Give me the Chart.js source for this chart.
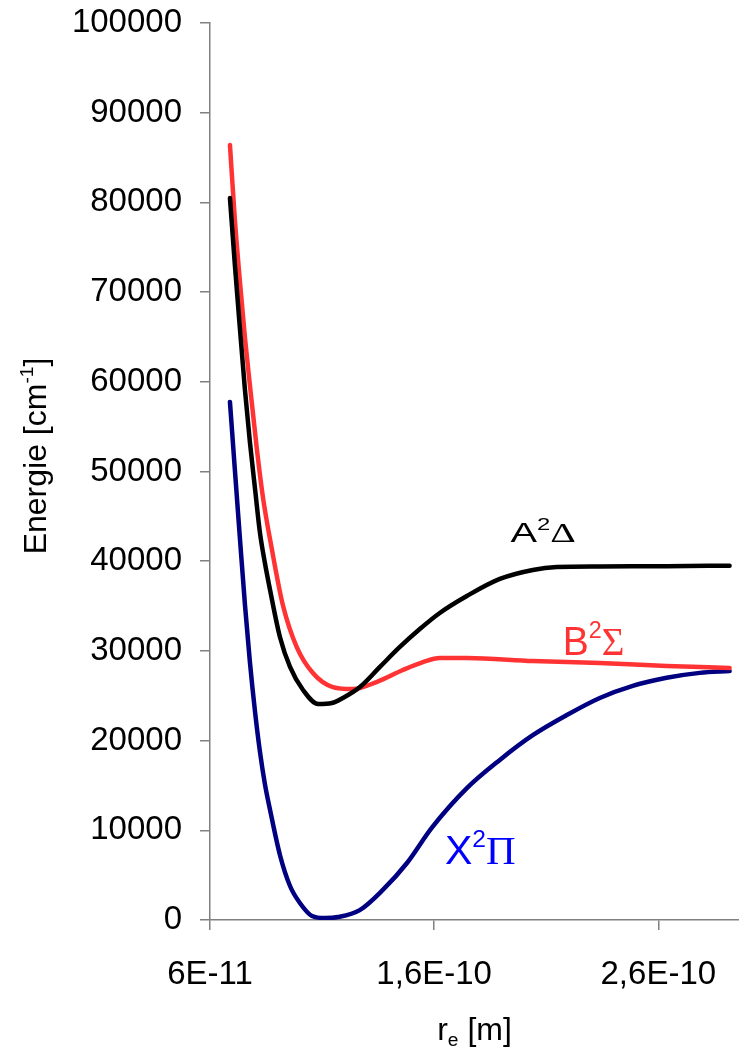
<!DOCTYPE html>
<html>
<head>
<meta charset="utf-8">
<script src="https://cdn.jsdelivr.net/npm/chart.js@4.4.1/dist/chart.umd.min.js"></script>
<style>
  html, body { margin: 0; padding: 0; background: #fff; }
  canvas { display: block; }
</style>
</head>
<body>
<canvas id="chart" width="739" height="1050"></canvas>
<script>
/* Potential curves: r in units of 1E-10 m, energy in cm-1 */
var rA = [0.689, 0.711, 0.734, 0.756, 0.778, 0.801, 0.823, 0.845, 0.868, 0.912, 0.957, 1.015, 1.082, 1.144, 1.193, 1.269, 1.358, 1.447, 1.536, 1.625, 1.746, 1.893, 2.040, 2.147, 2.339, 2.637, 2.918];
var eA = [80490, 73020, 65770, 59090, 53290, 48050, 43140, 39800, 36790, 31550, 28210, 25640, 24080, 24190, 24750, 25970, 28210, 30440, 32440, 34230, 36120, 38020, 39020, 39350, 39420, 39450, 39500];

var rB = [0.689, 0.711, 0.734, 0.756, 0.778, 0.808, 0.836, 0.875, 0.925, 0.987, 1.059, 1.148, 1.238, 1.343, 1.460, 1.550, 1.625, 1.746, 2.040, 2.339, 2.637, 2.918];
var eB = [86400, 78040, 71020, 64880, 59640, 52730, 47160, 41470, 35120, 30430, 27540, 25970, 25750, 26530, 27870, 28760, 29210, 29210, 28870, 28650, 28320, 28090];

var rX = [0.689, 0.711, 0.734, 0.756, 0.778, 0.801, 0.823, 0.845, 0.868, 0.912, 0.957, 1.001, 1.055, 1.113, 1.171, 1.268, 1.371, 1.477, 1.590, 1.746, 1.893, 2.040, 2.192, 2.339, 2.486, 2.637, 2.785, 2.918];
var eX = [57750, 50170, 42370, 35120, 28760, 23190, 18730, 15160, 12260, 7250, 3790, 1900, 450, 220, 330, 1100, 3350, 6300, 10300, 14700, 17850, 20600, 22850, 24750, 26100, 27000, 27550, 27750];

var xTicks = [0.6, 1.6, 2.6];
var xTickLabels = ['6E-11', '1,6E-10', '2,6E-10'];

/* curve names, anchored in data coordinates (left end of text baseline) */
var curveLabels = [
  { segs: [{ t: 'A' }, { t: '2', sup: true }, { t: 'Δ', serif: true }], r: 1.941, e: 42170, color: '#000000', size: 28, sx: 1.42, sy: 1 },
  { segs: [{ t: 'B' }, { t: '2', sup: true }, { t: 'Σ', serif: true }], r: 2.174, e: 29540, color: '#ff3333', size: 41, sx: 0.95, sy: 1 },
  { segs: [{ t: 'X' }, { t: '2', sup: true }, { t: 'Π', serif: true }], r: 1.648, e: 6240, color: '#0000ff', size: 41, sx: 1, sy: 1 }
];

function pts(xs, ys) { return xs.map(function (x, i) { return { x: x, y: ys[i] }; }); }

function segFont(s, size) {
  var sz = (s.sup || s.sub) ? size * 0.6 : size;
  return sz + 'px ' + (s.serif ? '"Liberation Serif"' : '"Liberation Sans"');
}
function richWidth(ctx, segs, size) {
  var w = 0;
  segs.forEach(function (s) { ctx.font = segFont(s, size); w += ctx.measureText(s.t).width; });
  return w;
}
function drawRich(ctx, segs, x, y, size) {
  segs.forEach(function (s) {
    ctx.font = segFont(s, size);
    var dy = s.sup ? -size * 0.42 : (s.sub ? size * 0.2 : 0);
    ctx.fillText(s.t, x, y + dy);
    x += ctx.measureText(s.t).width;
  });
}

var textPlugin = {
  id: 'texts',
  afterDraw: function (chart) {
    var ctx = chart.ctx, xs = chart.scales.x, ys = chart.scales.y;
    ctx.save();
    ctx.textBaseline = 'alphabetic';
    ctx.textAlign = 'left';

    curveLabels.forEach(function (l) {
      ctx.save();
      ctx.fillStyle = l.color;
      ctx.translate(xs.getPixelForValue(l.r), ys.getPixelForValue(l.e));
      ctx.scale(l.sx, l.sy);
      drawRich(ctx, l.segs, 0, 0, l.size);
      ctx.restore();
    });

    ctx.fillStyle = '#000';
    // x title
    var xt = [{ t: 'r' }, { t: 'e', sub: true }, { t: ' [m]' }];
    var w = richWidth(ctx, xt, 32);
    drawRich(ctx, xt, (chart.chartArea.left + chart.chartArea.right) / 2 - w / 2, 1040, 32);

    // y title
    var yt = [{ t: 'Energie [cm' }, { t: '-1', sup: true }, { t: ']' }];
    w = richWidth(ctx, yt, 32);
    ctx.translate(34, 456);
    ctx.rotate(-Math.PI / 2);
    drawRich(ctx, yt, -w / 2, 12, 32);
    ctx.restore();
  }
};

function line(data, color) {
  return {
    data: data, borderColor: color, backgroundColor: color, borderWidth: 4.5,
    pointRadius: 0, showLine: true, fill: false, cubicInterpolationMode: 'monotone',
    borderCapStyle: 'round', borderJoinStyle: 'round'
  };
}

var axisGray = '#808080';

new Chart(document.getElementById('chart').getContext('2d'), {
  type: 'scatter',
  data: {
    datasets: [
      line(pts(rA, eA), '#000000'),
      line(pts(rB, eB), '#ff3333'),
      line(pts(rX, eX), '#000080')
    ]
  },
  options: {
    responsive: false,
    animation: false,
    devicePixelRatio: 1,
    layout: { padding: { top: 23, right: 0, bottom: 0, left: 0 } },
    plugins: { legend: { display: false }, tooltip: { enabled: false } },
    scales: {
      x: {
        type: 'linear', min: 0.6, max: 2.96,
        afterFit: function (s) { s.height = 130; s.paddingLeft = 0; s.paddingRight = 0; },
        afterBuildTicks: function (s) { s.ticks = xTicks.map(function (v) { return { value: v }; }); },
        border: { color: axisGray, width: 1.5 },
        grid: { display: true, drawOnChartArea: false, drawTicks: true, tickLength: 10, color: axisGray, lineWidth: 1.5 },
        ticks: {
          color: '#000', padding: 25, maxRotation: 0, autoSkip: false,
          font: { family: '"Liberation Sans"', size: 33 },
          callback: function (v) { var i = xTicks.indexOf(v); return i >= 0 ? xTickLabels[i] : ''; }
        }
      },
      y: {
        type: 'linear', min: 0, max: 100000,
        afterFit: function (s) { s.width = 210; s.paddingTop = 0; s.paddingBottom = 0; },
        border: { color: axisGray, width: 1.5 },
        grid: { display: true, drawOnChartArea: false, drawTicks: true, tickLength: 10, color: axisGray, lineWidth: 1.5 },
        ticks: {
          color: '#000', padding: 18, stepSize: 10000,
          font: { family: '"Liberation Sans"', size: 33 },
          callback: function (v) { return String(v); }
        }
      }
    }
  },
  plugins: [textPlugin]
});
</script>
</body>
</html>
